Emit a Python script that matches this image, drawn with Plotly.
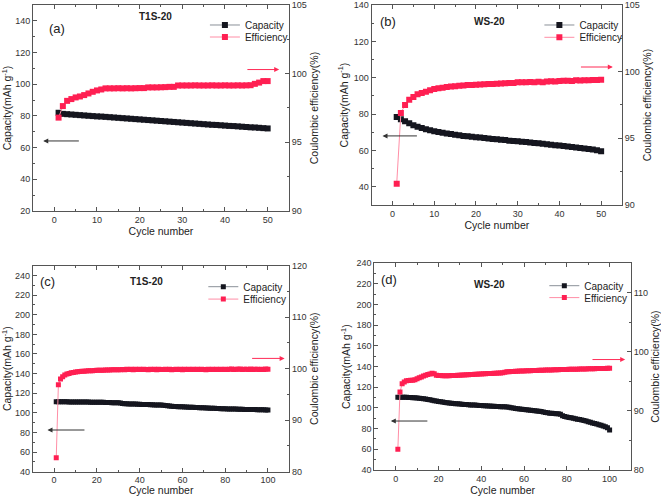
import plotly.graph_objects as go

# ---------------- data ----------------
cycles_50 = list(range(1, 51))
cycles_100 = list(range(1, 101))

cap_a = [82.0, 81.3, 81.1, 80.9, 80.7, 80.5, 80.3, 80.1, 79.9, 79.7,
         79.6, 79.4, 79.2, 79.0, 78.8, 78.6, 78.4, 78.2, 78.0, 77.8,
         77.6, 77.4, 77.2, 77.0, 76.8, 76.6, 76.4, 76.2, 76.0, 75.8,
         75.6, 75.4, 75.2, 75.0, 74.8, 74.6, 74.4, 74.3, 74.1, 73.9,
         73.7, 73.6, 73.4, 73.2, 73.0, 72.8, 72.7, 72.5, 72.3, 72.1]
eff_a = [96.8, 97.64, 98.02, 98.15, 98.27, 98.34, 98.44, 98.56, 98.68, 98.78,
         98.85, 98.93, 98.93, 98.93, 98.94, 98.93, 98.94, 98.93, 98.94, 98.95,
         98.95, 99.0, 99.0, 99.0, 99.01, 99.02, 99.04, 99.04, 99.14, 99.14,
         99.14, 99.14, 99.15, 99.14, 99.14, 99.14, 99.15, 99.14, 99.14, 99.15,
         99.14, 99.14, 99.15, 99.14, 99.15, 99.16, 99.26, 99.35, 99.46, 99.46]

cap_b = [78.4, 77.2, 76.0, 75.0, 73.9, 73.1, 72.4, 71.7, 71.1, 70.5,
         70.1, 69.7, 69.3, 69.0, 68.6, 68.3, 68.0, 67.8, 67.6, 67.3,
         67.1, 66.8, 66.6, 66.3, 66.1, 65.9, 65.7, 65.4, 65.2, 65.0,
         64.8, 64.6, 64.4, 64.1, 63.9, 63.7, 63.4, 63.2, 62.9, 62.7,
         62.4, 62.2, 61.9, 61.6, 61.4, 61.1, 60.8, 60.5, 60.1, 59.6]
eff_b = [91.6, 96.9, 97.5, 97.9, 98.1, 98.3, 98.4, 98.5, 98.6, 98.7,
         98.75, 98.8, 98.85, 98.88, 98.9, 98.95, 98.97, 99.0, 99.0, 99.02,
         99.04, 99.06, 99.07, 99.08, 99.1, 99.12, 99.14, 99.15, 99.15, 99.2,
         99.2, 99.2, 99.22, 99.2, 99.24, 99.2, 99.27, 99.28, 99.27, 99.3,
         99.32, 99.31, 99.3, 99.35, 99.34, 99.35, 99.36, 99.37, 99.38, 99.4]

cap_c = [111.4, 111.3, 111.3, 111.2, 111.2, 111.2, 111.1, 111.1, 111.1, 111.1,
         111.0, 111.0, 111.0, 111.0, 111.0, 111.0, 110.9, 110.9, 110.9, 110.9,
         110.8, 110.8, 110.7, 110.6, 110.5, 110.5, 110.4, 110.4, 110.3, 110.2,
         110.0, 109.6, 109.3, 109.2, 109.1, 109.0, 108.9, 108.9, 108.8, 108.7,
         108.6, 108.5, 108.5, 108.4, 108.3, 108.2, 108.1, 108.0, 108.0, 107.9,
         107.7, 107.5, 107.2, 106.9, 106.6, 106.5, 106.4, 106.3, 106.2, 106.1,
         106.0, 105.9, 105.8, 105.7, 105.6, 105.5, 105.4, 105.3, 105.2, 105.1,
         105.0, 104.9, 104.8, 104.7, 104.6, 104.5, 104.4, 104.3, 104.2, 104.1,
         104.0, 104.0, 103.9, 103.8, 103.8, 103.7, 103.6, 103.6, 103.5, 103.5,
         103.4, 103.4, 103.3, 103.3, 103.2, 103.2, 103.1, 103.1, 103.0, 103.0]
eff_c = [82.7, 96.9, 98.0, 98.45, 98.8, 98.95, 99.05, 99.2, 99.25, 99.35,
         99.4, 99.45, 99.5, 99.52, 99.55, 99.58, 99.6, 99.62, 99.65, 99.68,
         99.7, 99.7, 99.72, 99.74, 99.75, 99.76, 99.78, 99.78, 99.8, 99.8,
         99.82, 99.86, 99.8, 99.88, 99.84, 99.9, 99.82, 99.87, 99.85, 99.9,
         99.83, 99.88, 99.86, 99.8, 99.9, 99.85, 99.87, 99.82, 99.9, 99.86,
         99.84, 99.9, 99.85, 99.88, 99.8, 99.86, 99.9, 99.84, 99.87, 99.82,
         99.88, 99.85, 99.9, 99.83, 99.87, 99.86, 99.9, 99.84, 99.88, 99.85,
         99.82, 99.9, 99.86, 99.88, 99.84, 99.9, 99.85, 99.87, 99.83, 99.9,
         99.86, 99.88, 99.92, 99.85, 99.9, 99.87, 99.93, 99.84, 99.9, 99.88,
         99.86, 99.92, 99.85, 99.9, 99.88, 99.83, 99.9, 99.86, 99.92, 99.87]

cap_d = [110.3, 110.4, 110.4, 110.3, 110.3, 110.2, 110.1, 110.0, 109.9, 109.7,
         109.5, 109.2, 108.9, 108.6, 108.3, 107.9, 107.5, 107.1, 106.7, 106.3,
         106.0, 105.7, 105.4, 105.1, 104.8, 104.6, 104.4, 104.2, 104.0, 103.8,
         103.6, 103.5, 103.3, 103.2, 103.0, 102.9, 102.8, 102.6, 102.5, 102.4,
         102.2, 102.1, 102.0, 101.9, 101.8, 101.6, 101.5, 101.4, 101.3, 101.2,
         101.2, 101.0, 100.6, 100.2, 99.9, 99.6, 99.3, 99.0, 98.8, 98.6,
         98.3, 98.0, 97.8, 97.6, 97.3, 97.1, 96.9, 96.6, 96.2, 95.7,
         95.3, 95.0, 94.8, 94.6, 94.5, 94.4, 94.0, 92.5, 91.7, 91.3,
         90.9, 90.5, 90.1, 89.7, 89.2, 88.8, 88.3, 87.8, 87.3, 86.8,
         86.2, 85.6, 85.0, 84.4, 83.8, 83.2, 82.5, 81.8, 80.8, 78.8]
eff_d = [83.5, 93.2, 94.6, 94.9, 95.1, 95.15, 95.2, 95.2, 95.3, 95.45,
         95.6, 95.75, 95.9, 96.05, 96.15, 96.25, 96.4, 96.3, 96.05, 96.0,
         95.98, 95.95, 95.95, 95.95, 95.96, 95.98, 96.0, 96.02, 96.04, 96.06,
         96.08, 96.1, 96.12, 96.14, 96.16, 96.18, 96.2, 96.22, 96.24, 96.26,
         96.28, 96.3, 96.32, 96.34, 96.36, 96.38, 96.4, 96.42, 96.44, 96.46,
         96.55, 96.62, 96.65, 96.67, 96.69, 96.71, 96.73, 96.75, 96.76, 96.78,
         96.8, 96.81, 96.82, 96.84, 96.85, 96.86, 96.88, 96.89, 96.9, 96.92,
         96.93, 96.94, 96.95, 96.97, 96.98, 96.99, 97.0, 97.01, 97.02, 97.03,
         97.04, 97.05, 97.06, 97.07, 97.08, 97.09, 97.1, 97.11, 97.12, 97.13,
         97.14, 97.15, 97.16, 97.17, 97.18, 97.19, 97.2, 97.2, 97.21, 97.22]

panel_labels = ["(a)", "(b)", "(c)", "(d)"]
sample_names = ["T1S-20", "WS-20", "T1S-20", "WS-20"]
series_names = ["Capacity", "Efficiency"]

# ---------------- style ----------------
FONT = "Liberation Sans, Arial, sans-serif"
CAP_MARK = "#15161f"
CAP_LINE = "#8a9098"
EFF_MARK = "#ff1f52"
EFF_LINE = "#ff8ea6"
AXC = "#555555"
TXT = "#222222"

panels = [
    dict(x=cycles_50, cap=cap_a, eff=eff_a, xdom=[0.0499, 0.4372], ydom=[0.5746, 0.9899],
         xr=[-5, 55], xd=10, xm=5, yl=[20, 150], yr=[90, 105], ydt=20, rdt=5, ms=6,
         lab=(0.094, 0.888), name=(0.477, 0.943), leg_x=0.310, leg_y=(0.9496, 0.9254),
         black=((6.1, 64.2), (-2.6, 64.2)), red=((44.9, 100.3), (52.7, 100.3))),
    dict(x=cycles_50, cap=cap_b, eff=eff_b, xdom=[0.5623, 0.941], ydom=[0.5867, 0.9899],
         xr=[-5, 55], xd=10, xm=5, yl=[30, 140], yr=[90, 105], ydt=20, rdt=5, ms=6,
         lab=(0.066, 0.92), name=(0.47, 0.917), leg_x=0.816, leg_y=(0.9496, 0.9248),
         black=((6.2, 68.0), (-2.4, 68.0)), red=((44.8, 100.35), (52.8, 100.35))),
    dict(x=cycles_100, cap=cap_c, eff=eff_c, xdom=[0.0495, 0.4377], ydom=[0.049, 0.4643],
         xr=[-10, 110], xd=20, xm=10, yl=[40, 250], yr=[80, 120], ydt=20, rdt=10, ms=5,
         lab=(0.058, 0.922), name=(0.444, 0.922), leg_x=0.3076, leg_y=(0.422, 0.397),
         black=((14.9, 82.5), (-3.1, 82.5)), red=((91.9, 102.0), (107.8, 102.0))),
    dict(x=cycles_100, cap=cap_d, eff=eff_d, xdom=[0.5663, 0.9546], ydom=[0.0524, 0.4692],
         xr=[-10, 110], xd=20, xm=10, yl=[40, 240], yr=[80, 115], ydt=20, rdt=10, ms=5,
         lab=(0.058, 0.923), name=(0.448, 0.898), leg_x=0.8235, leg_y=(0.424, 0.400),
         black=((15.5, 87.4), (-2.3, 87.4)), red=((91.3, 98.7), (107.3, 98.7))),
]

fig = go.Figure()
layout = dict(
    width=661, height=496,
    margin=dict(l=0, r=0, t=0, b=0),
    paper_bgcolor="white", plot_bgcolor="white",
    font=dict(family=FONT, size=10, color=TXT),
    showlegend=True,
    annotations=[],
)

for i, p in enumerate(panels):
    xi = i + 1
    yl_i = 2 * i + 1
    yr_i = 2 * i + 2
    xname = "x" if xi == 1 else f"x{xi}"
    ylname = "y" if yl_i == 1 else f"y{yl_i}"
    yrname = f"y{yr_i}"
    leg1 = f"legend{2 * i + 2}"
    leg2 = f"legend{2 * i + 3}"

    fig.add_trace(go.Scatter(
        x=p["x"], y=p["cap"], name=series_names[0], mode="lines+markers",
        xaxis=xname, yaxis=ylname, legend=leg1, showlegend=True,
        line=dict(color=CAP_LINE, width=1),
        marker=dict(symbol="square", size=p["ms"], color=CAP_MARK)))
    fig.add_trace(go.Scatter(
        x=p["x"], y=p["eff"], name=series_names[1], mode="lines+markers",
        xaxis=xname, yaxis=yrname, legend=leg2, showlegend=True,
        line=dict(color=EFF_LINE, width=1),
        marker=dict(symbol="square", size=p["ms"], color=EFF_MARK)))

    common = dict(showline=True, linecolor=AXC, linewidth=1, ticks="inside", ticklen=4,
                  tickcolor=AXC, showgrid=False, zeroline=False, automargin=False,
                  tickfont=dict(size=9, color="#333333"))

    layout["xaxis" if xi == 1 else f"xaxis{xi}"] = dict(
        common, domain=p["xdom"], range=p["xr"], dtick=p["xd"], tick0=0,
        anchor=ylname, mirror="ticks",
        minor=dict(ticks="inside", ticklen=2, dtick=p["xm"], tickcolor=AXC),
        title=dict(text="Cycle number", font=dict(size=10.5), standoff=2))
    layout["yaxis" if yl_i == 1 else f"yaxis{yl_i}"] = dict(
        common, domain=p["ydom"], range=p["yl"], dtick=p["ydt"], tick0=0,
        anchor=xname,
        minor=dict(ticks="inside", ticklen=2, dtick=p["ydt"] / 2, tickcolor=AXC),
        title=dict(text="Capacity(mAh g<sup>-1</sup>)", font=dict(size=10.5), standoff=3))
    layout[f"yaxis{yr_i}"] = dict(
        common, range=p["yr"], dtick=p["rdt"], tick0=0,
        anchor=xname, overlaying=ylname, side="right",
        minor=dict(ticks="inside", ticklen=2, dtick=p["rdt"] / 2, tickcolor=AXC),
        title=dict(text="Coulombic efficiency(%)", font=dict(size=10.5), standoff=4))

    for leg, ly in ((leg1, p["leg_y"][0]), (leg2, p["leg_y"][1])):
        layout[leg] = dict(x=p["leg_x"], y=ly, xanchor="left", yanchor="middle",
                           xref="paper", yref="paper", bgcolor="rgba(0,0,0,0)",
                           font=dict(size=10, color=TXT), itemwidth=30,
                           borderwidth=0, visible=True)

    layout["annotations"].append(dict(
        text=panel_labels[i], xref=f"{xname} domain", yref=f"{ylname} domain",
        x=p["lab"][0], y=p["lab"][1], showarrow=False, xanchor="center", yanchor="middle",
        font=dict(size=13, color=TXT)))
    layout["annotations"].append(dict(
        text=f"<b>{sample_names[i]}</b>", xref=f"{xname} domain", yref=f"{ylname} domain",
        x=p["name"][0], y=p["name"][1], showarrow=False, xanchor="center", yanchor="middle",
        font=dict(size=10, color=TXT)))
    (bx0, by0), (bx1, by1) = p["black"]
    layout["annotations"].append(dict(
        text="", x=bx1, y=by1, ax=bx0, ay=by0, xref=xname, yref=ylname,
        axref=xname, ayref=ylname, showarrow=True, arrowhead=2, arrowsize=1,
        arrowwidth=1, arrowcolor="#333333"))
    (rx0, ry0), (rx1, ry1) = p["red"]
    layout["annotations"].append(dict(
        text="", x=rx1, y=ry1, ax=rx0, ay=ry0, xref=xname, yref=yrname,
        axref=xname, ayref=yrname, showarrow=True, arrowhead=2, arrowsize=1,
        arrowwidth=1, arrowcolor="#ff2a55"))

fig.update_layout(**layout)
fig.write_html("out.html", config={"displayModeBar": False},
               post_script="document.body.style.margin='0';")
